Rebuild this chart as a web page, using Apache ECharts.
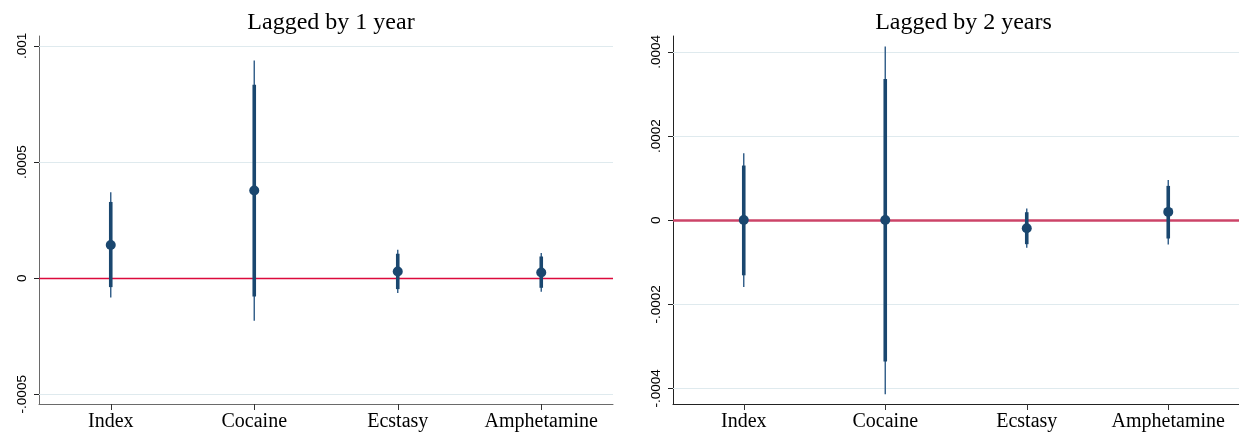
<!DOCTYPE html>
<html>
<head>
<meta charset="utf-8">
<script src="https://cdn.jsdelivr.net/npm/echarts@6/dist/echarts.min.js"></script>
<style>html,body{margin:0;padding:0;background:#fff;}#c{width:1239px;height:432px;}</style>
</head>
<body>
<div id="c"></div>
<script>
// ---- data ----
const categories = ['Index', 'Cocaine', 'Ecstasy', 'Amphetamine'];
const titles = ['Lagged by 1 year', 'Lagged by 2 years'];

// Panel 1: lagged by 1 year
const est1  = [0.000143, 0.000377, 0.0000287, 0.0000244];
const lo90_1 = [-0.0000387, -0.0000789, -0.0000473, -0.0000416];
const hi90_1 = [0.000328, 0.000833, 0.000105, 0.0000932];
const lo95_1 = [-0.0000832, -0.000184, -0.0000645, -0.0000588];
const hi95_1 = [0.00037, 0.000937, 0.000122, 0.000108];
const yTicks1 = [-0.0005, 0, 0.0005, 0.001];
const yTickLabels1 = ['-.0005', '0', '.0005', '.001'];
const yRange1 = [-0.000542, 0.0010426];

// Panel 2: lagged by 2 years
const est2  = [0.0000005, 0.0000003, -0.000019, 0.0000198];
const lo90_2 = [-0.000131, -0.000336, -0.000057, -0.0000435];
const hi90_2 = [0.00013, 0.000336, 0.000019, 0.0000816];
const lo95_2 = [-0.000159, -0.000414, -0.0000657, -0.0000578];
const hi95_2 = [0.000159, 0.000413, 0.0000277, 0.0000958];
const yTicks2 = [-0.0004, -0.0002, 0, 0.0002, 0.0004];
const yTickLabels2 = ['-.0004', '-.0002', '0', '.0002', '.0004'];
const yRange2 = [-0.000437, 0.000438];

// ---- chart ----
const NAVY = '#1a476f';
const SERIF = '"Liberation Serif", "DejaVu Serif", serif';
const SANS = '"Liberation Sans", Arial, sans-serif';

const grids = [
  { left: 39, top: 36, width: 574, height: 368 },
  { left: 673, top: 36, width: 571, height: 368 }
];

function ciRows(est, lo90, hi90, lo95, hi95) {
  return categories.map((c, i) => [i, est[i], lo90[i], hi90[i], lo95[i], hi95[i]]);
}
const panels = [
  { rows: ciRows(est1, lo90_1, hi90_1, lo95_1, hi95_1), est: est1, ticks: yTicks1, labels: yTickLabels1, range: yRange1, axisColor: '#6a6a6a', zeroColor: '#dc0a3c', zeroWidth: 1.5 },
  { rows: ciRows(est2, lo90_2, hi90_2, lo95_2, hi95_2), est: est2, ticks: yTicks2, labels: yTickLabels2, range: yRange2, axisColor: '#222', zeroColor: '#cc4468', zeroWidth: 2.5 }
];

function makeRender(thin) {
  return function (params, api) {
    const x = api.value(0);
    const lo = api.coord([x, api.value(thin ? 4 : 2)]);
    const hi = api.coord([x, api.value(thin ? 5 : 3)]);
    return {
      type: 'line',
      shape: { x1: lo[0], y1: lo[1], x2: hi[0], y2: hi[1] },
      style: { stroke: thin ? '#2d5a86' : NAVY, lineWidth: thin ? 1.4 : 3.6 }
    };
  };
}

// horizontal reference lines (grid lines and zero line) through the y scale
function makeHLineRender(p) {
  return function (params, api) {
    const cs = params.coordSys;
    const v = api.value(0);
    const y = Math.round(api.coord([0, v])[1]) + 0.5;
    const isZero = v === 0;
    return {
      type: 'line',
      shape: { x1: cs.x, y1: y, x2: cs.x + cs.width, y2: y },
      style: isZero ? { stroke: p.zeroColor, lineWidth: p.zeroWidth } : { stroke: '#dfeaee', lineWidth: 1 }
    };
  };
}

// category tick marks below the x axis, placed through the category scale
function xTickRender(params, api) {
  const cs = params.coordSys;
  const x = Math.round(api.coord([api.value(0), 0])[0]) + 0.5;
  const yb = cs.y + cs.height;
  return {
    type: 'line',
    shape: { x1: x, y1: yb, x2: x, y2: yb + 6 },
    style: { stroke: '#333', lineWidth: 1 }
  };
}

const option = {
  backgroundColor: '#fff',
  animation: false,
  title: titles.map((t, i) => ({
    text: t,
    left: grids[i].left + grids[i].width / 2,
    textAlign: 'center',
    top: 6,
    textStyle: { fontFamily: SERIF, fontSize: 24, fontWeight: 'normal', color: '#000' }
  })),
  grid: grids,
  xAxis: panels.map((p, i) => ({
    type: 'category',
    gridIndex: i,
    data: categories,
    boundaryGap: true,
    axisLine: { show: true, onZero: false, lineStyle: { color: p.axisColor, width: 1 } },
    axisTick: { show: false },
    axisLabel: { interval: 0, hideOverlap: false, fontFamily: SERIF, fontSize: 20, color: '#000', margin: 8 },
    splitLine: { show: false }
  })),
  yAxis: panels.map((p, i) => ({
    type: 'value',
    gridIndex: i,
    min: p.range[0],
    max: p.range[1],
    axisLine: { show: true, lineStyle: { color: p.axisColor, width: 1 } },
    axisTick: { show: true, length: 5, customValues: p.ticks, lineStyle: { color: '#222' } },
    axisLabel: {
      customValues: p.ticks,
      rotate: 90,
      margin: 10,
      fontFamily: SANS,
      fontSize: 13.5,
      color: '#000',
      formatter: function (v) {
        let k = 0, best = Infinity;
        p.ticks.forEach((t, j) => { const d = Math.abs(t - v); if (d < best) { best = d; k = j; } });
        return p.labels[k];
      }
    },
    splitLine: { show: false }
  })),
  series: []
};

panels.forEach((p, i) => {
  option.series.push({
    type: 'custom', xAxisIndex: i, yAxisIndex: i, z: 1, silent: true,
    renderItem: makeHLineRender(p),
    data: p.ticks.map(t => [t]),
    encode: { y: 0 }
  });
  option.series.push({
    type: 'custom', xAxisIndex: i, yAxisIndex: i, z: 1, silent: true, clip: false,
    renderItem: xTickRender,
    data: categories.map((c, k) => [k]),
    encode: { x: 0 }
  });
  option.series.push({
    type: 'custom', xAxisIndex: i, yAxisIndex: i, z: 2,
    renderItem: makeRender(true), data: p.rows, encode: { x: 0, y: [4, 5] }
  });
  option.series.push({
    type: 'custom', xAxisIndex: i, yAxisIndex: i, z: 3,
    renderItem: makeRender(false), data: p.rows, encode: { x: 0, y: [2, 3] }
  });
  option.series.push({
    type: 'scatter', xAxisIndex: i, yAxisIndex: i, z: 4,
    symbol: 'circle', symbolSize: 10,
    itemStyle: { color: NAVY, opacity: 1 },
    data: p.est.map((v, k) => [k, v])
  });
});

const chart = echarts.init(document.getElementById('c'), null, { renderer: 'canvas' });
chart.setOption(option);
</script>
</body>
</html>
